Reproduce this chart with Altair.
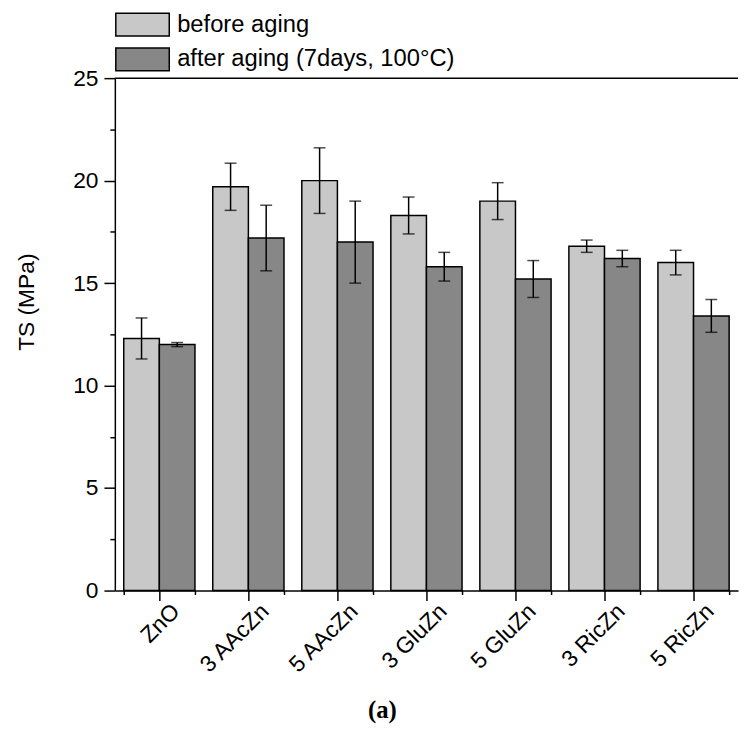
import altair as alt
import pandas as pd

categories = ["ZnO", "3 AAcZn", "5 AAcZn", "3 GluZn", "5 GluZn", "3 RicZn", "5 RicZn"]
groups = ["before aging", "after aging (7days, 100\u00b0C)"]
before_values = [12.3, 19.7, 20.0, 18.3, 19.0, 16.8, 16.0]
before_errors = [1.0, 1.15, 1.6, 0.9, 0.9, 0.3, 0.6]
after_values = [12.0, 17.2, 17.0, 15.8, 15.2, 16.2, 13.4]
after_errors = [0.1, 1.6, 2.0, 0.7, 0.9, 0.4, 0.8]
colors = ["#c8c8c8", "#878787"]
y_tick_values = [0, 2.5, 5, 7.5, 10, 12.5, 15, 17.5, 20, 22.5, 25]
y_domain = [0, 25]

rows = []
for cat, v, e in zip(categories, before_values, before_errors):
    rows.append({"category": cat, "group": groups[0], "value": v, "lo": v - e, "hi": v + e})
for cat, v, e in zip(categories, after_values, after_errors):
    rows.append({"category": cat, "group": groups[1], "value": v, "lo": v - e, "hi": v + e})
df = pd.DataFrame(rows)

FONT = "Liberation Sans"

x_scale = alt.Scale(paddingInner=0.2, paddingOuter=0.1)
y_scale = alt.Scale(domain=y_domain, nice=False, zero=True)

y_axis = alt.Axis(
    values=y_tick_values,
    labelExpr="datum.value % 5 == 0 ? datum.label : ''",
    tickSize={"condition": {"test": "datum.value % 5 != 0", "value": 5}, "value": 11},
    tickWidth=1.5, tickColor="black",
    domainColor="black", domainWidth=1.5,
    labelFont=FONT, labelFontSize=23, labelColor="black", labelPadding=6,
    title="TS (MPa)", titleFont=FONT, titleFontSize=23, titleFontWeight="normal",
    titleColor="black", titleX=-82, titleY=226, titleAlign="center",
    titleBaseline="alphabetic", grid=False,
)

x_axis_main = alt.Axis(
    orient="bottom", labelAngle=-45, labelAlign="right", labelBaseline="middle",
    labelFont=FONT, labelFontSize=23, labelColor="black",
    labelPadding=7, labelOffset=17,
    tickSize=10, tickWidth=1.5, tickColor="black",
    domainColor="black", domainWidth=1.5,
    title="(a)", titleFont="Liberation Serif", titleFontWeight="bold",
    titleFontSize=25, titleColor="black", titleX=270, titleY=128,
    titleAlign="center", titleBaseline="alphabetic", grid=False,
)

x_axis_minor = alt.Axis(
    orient="bottom", tickBand="extent", labels=False, domain=False,
    tickSize=4, tickWidth=1.5, tickColor="black", title=None, grid=False,
)

base = alt.Chart(df)

bars = base.mark_bar(stroke="black", strokeWidth=1.5).encode(
    x=alt.X("category:N", sort=categories, scale=x_scale, axis=x_axis_main),
    xOffset=alt.XOffset("group:N", sort=groups),
    y=alt.Y("value:Q", scale=y_scale, axis=y_axis),
    color=alt.Color(
        "group:N", sort=groups,
        scale=alt.Scale(domain=groups, range=colors),
        legend=alt.Legend(
            orient="none", legendX=15.5, legendY=-66.5, title=None,
            symbolType="M-2.35,-1H2.35V1H-2.35Z", symbolSize=529,
            symbolStrokeColor="black", symbolStrokeWidth=1.5, symbolOpacity=1,
            labelFont=FONT, labelFontSize=24, labelColor="black",
            labelOffset=22.5, rowPadding=6, padding=0, labelLimit=600,
        ),
    ),
)

err_rules = base.mark_rule(color="black", strokeWidth=1.5).encode(
    x=alt.X("category:N", sort=categories, scale=x_scale, axis=x_axis_minor),
    xOffset=alt.XOffset("group:N", sort=groups),
    y=alt.Y("lo:Q", scale=y_scale, axis=y_axis),
    y2="hi:Q",
)

err_lo = base.mark_tick(color="black", thickness=1.5, size=12).encode(
    x=alt.X("category:N", sort=categories, scale=x_scale, axis=None),
    xOffset=alt.XOffset("group:N", sort=groups),
    y=alt.Y("lo:Q", scale=y_scale, axis=y_axis),
)

err_hi = base.mark_tick(color="black", thickness=1.5, size=12).encode(
    x=alt.X("category:N", sort=categories, scale=x_scale, axis=None),
    xOffset=alt.XOffset("group:N", sort=groups),
    y=alt.Y("hi:Q", scale=y_scale, axis=y_axis),
)

top_line = alt.Chart(pd.DataFrame({"top": [y_domain[1]]})).mark_rule(
    color="black", strokeWidth=1.5
).encode(
    y=alt.Y("top:Q", scale=y_scale, axis=y_axis),
)

chart = (
    alt.layer(bars, err_rules, err_lo, err_hi, top_line)
    .resolve_axis(x="independent")
    .properties(
        width=630, height=518,
        padding={"left": 108, "top": 67, "right": 4, "bottom": 132},
        autosize=alt.AutoSizeParams(type="none"),
    )
    .configure_view(strokeWidth=0)
    .configure_axis(grid=False)
)

chart.save("out.html", embed_options={"renderer": "svg", "actions": False})
